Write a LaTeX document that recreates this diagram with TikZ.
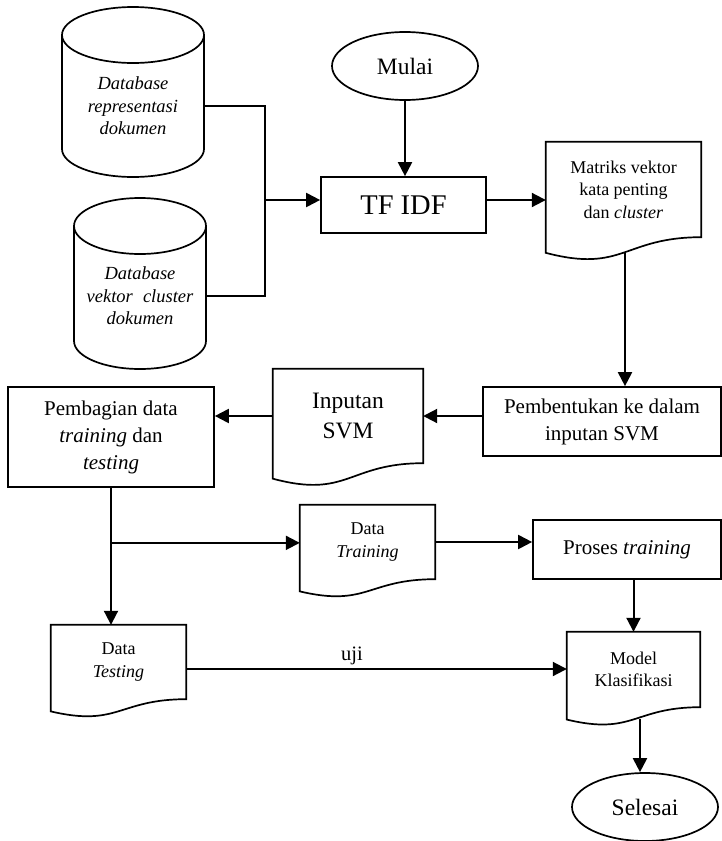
\documentclass[tikz,border=0pt]{standalone}
\usepackage{fontspec}
\setmainfont{Liberation Serif}
\usetikzlibrary{shapes.geometric,arrows.meta,calc}
\newcommand\docoutline[2]{%
  \draw[shapeline] (#1.north west) -- (#1.north east) -- (#1.south east)
    .. controls (#1.south) and ($(#1.south)+(0,#2*0.38)$) ..
    ($(#1.south west)+(0,#2*0.1646)$) -- cycle;}
\begin{document}
\begin{tikzpicture}[x=1pt,y=-1pt,
  shapeline/.style={line width=1.7pt, line join=miter},
  conn/.style={line width=2pt},
  arr/.style={conn, -{Triangle[length=14pt,width=14pt]}},
  box/.style={draw, line width=1.7pt, rectangle, inner sep=0pt, align=center},
  docnode/.style={rectangle, inner sep=0pt, align=center},
  term/.style={draw, line width=1.7pt, ellipse, inner sep=0pt, minimum width=146pt, minimum height=68pt,
    font=\fontsize{23.5}{28}\selectfont},
  dbtext/.style={inner sep=0pt, align=center, font=\fontsize{18.5}{22.5}\selectfont\itshape},
  smallf/.style={font=\fontsize{18}{22.5}\selectfont},
  midf/.style={font=\fontsize{21}{27}\selectfont}]
\useasboundingbox (0,0) rectangle (722,841);

% databases
\draw[shapeline] (133,35) ellipse [x radius=71pt, y radius=28pt];
\draw[shapeline] (62,35) -- (62,149) arc[start angle=180, end angle=360, x radius=71pt, y radius=28pt] -- (204,35);
\node[dbtext, minimum width=142pt] (db1) at (133,106) {Database\\representasi\\dokumen};

\draw[shapeline] (140,226) ellipse [x radius=66pt, y radius=28pt];
\draw[shapeline] (74,226) -- (74,341) arc[start angle=180, end angle=360, x radius=66pt, y radius=28pt] -- (206,226);
\node[dbtext, minimum width=132pt] (db2) at (140,296) {Database\\vektor\hspace{0.55em}cluster\\dokumen};

% top row
\node[term] (mulai) at (405,66) {Mulai};
\node[box, minimum width=165pt, minimum height=56pt, font=\fontsize{28.5}{32}\selectfont] (tfidf) at (403.5,205) {TF IDF};
\node[docnode, smallf, minimum width=155pt, minimum height=95pt] (matriks) at (623.5,189.5)
  {Matriks vektor\\kata penting\\dan \textit{cluster}};
\docoutline{matriks}{95}

% second row
\node[box, midf, minimum width=238pt, minimum height=69pt] (pemb) at (602,421.5) {Pembentukan ke dalam\\inputan SVM};
\node[docnode, minimum width=150pt, minimum height=94pt, font=\fontsize{23.5}{30}\selectfont] (inputan) at (348,416) {Inputan\\SVM};
\docoutline{inputan}{94}
\node[box, midf, minimum width=206pt, minimum height=100pt] (pembagian) at (111,437)
  {Pembagian data\\\textit{training} dan\\\textit{testing}};

% third row
\node[docnode, smallf, minimum width=135pt, minimum height=74pt] (dtrain) at (367.5,542) {Data\\\textit{Training}};
\docoutline{dtrain}{74}
\node[box, midf, minimum width=188pt, minimum height=59pt] (proses) at (627,549.5) {Proses \textit{training}};

% fourth row
\node[docnode, smallf, minimum width=135pt, minimum height=74pt] (dtest) at (118.5,662) {Data\\\textit{Testing}};
\docoutline{dtest}{74}
\node[docnode, smallf, minimum width=133pt, minimum height=75pt] (model) at (633.5,669.5) {Model\\Klasifikasi};
\docoutline{model}{75}
\node[term] (selesai) at (645,807) {Selesai};
\node[inner sep=0pt, font=\fontsize{20.5}{24}\selectfont] (ujilbl) at (352,656) {uji};

% connectors
\coordinate (j1) at (265,200);
\draw[conn] (db1.east) -| (j1);
\draw[conn] (db2.east) -| (j1);
\draw[arr] (j1) -- (j1 -| tfidf.west);
\draw[arr] (mulai.south) -- (mulai.south |- tfidf.north);
\draw[arr] (tfidf.east |- j1) -- (matriks.west |- j1);
\coordinate (matriksb) at ($(matriks.south)+(1.5,15.5)$);
\draw[arr] (matriksb) -- (matriksb |- pemb.north);
\draw[arr] (pemb.west |- inputan.east) -- (inputan.east);
\draw[arr] (inputan.west) -- (inputan.west -| pembagian.east);
\coordinate (j2) at ($(pembagian.south)+(0,55)$);
\draw[arr] (pembagian.south) -- (pembagian.south |- dtest.north);
\draw[arr] (j2) -- (j2 -| dtrain.west);
\draw[arr] (dtrain.east) -- (dtrain.east -| proses.west);
\draw[arr] (model.north |- proses.south) -- (model.north);
\coordinate (ujiy) at (0,669);
\draw[arr] (dtest.east |- ujiy) -- (model.west |- ujiy);
\coordinate (modelb) at ($(model.south)+(6.5,12)$);
\draw[arr] (modelb) -- (modelb |- selesai.north);
\end{tikzpicture}
\end{document}
